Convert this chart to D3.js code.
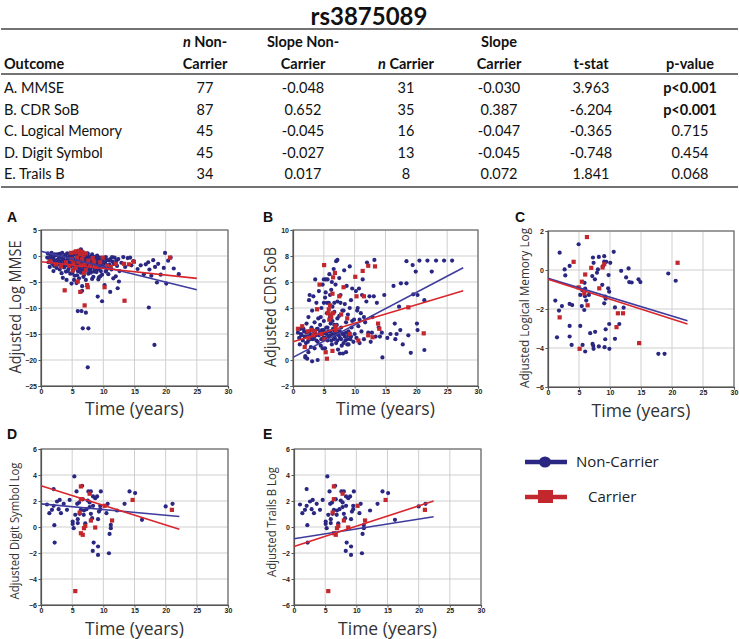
<!DOCTYPE html>
<html><head><meta charset="utf-8">
<script src="https://cdn.jsdelivr.net/npm/d3@7"></script>
<style>body{margin:0;background:#fff}svg{display:block}</style>
</head><body>
<svg id="fig" width="739" height="639"></svg>
<script>
// ---------------- data ----------------
const titleText = "rs3875089";
const outcomes = ["A. MMSE","B. CDR SoB","C. Logical Memory","D. Digit Symbol","E. Trails B"];
const nNonCarrier = ["77","87","45","45","34"];
const slopeNonCarrier = ["-0.048","0.652","-0.045","-0.027","0.017"];
const nCarrier = ["31","35","16","13","8"];
const slopeCarrier = ["-0.030","0.387","-0.047","-0.045","0.072"];
const tStat = ["3.963","-6.204","-0.365","-0.748","1.841"];
const pValue = ["p<0.001","p<0.001","0.715","0.454","0.068"];
const pBold = [true,true,false,false,false];

const xTicks = [0,5,10,15,20,25,30];
const yTicksA = [-25,-20,-15,-10,-5,0,5];
const yTicksB = [-2,0,2,4,6,8,10];
const yTicksC = [-6,-4,-2,0,2];
const yTicksDE = [-6,-4,-2,0,2,4,6];

const panelLabels = ["A","B","C","D","E"];
const yTitles = ["Adjusted Log MMSE","Adjusted CDR SoB","Adjusted Logical Memory Log","Adjusted Digit Symbol Log","Adjusted Trails B Log"];
const xTitle = "Time (years)";
const legendLabels = ["Non-Carrier","Carrier"];

// A: MMSE
const mmseNon = [[1.0,-0.3],[1.2,-1.2],[1.5,0.2],[1.6,-0.8],[1.8,-1.5],[2.0,-0.5],[2.1,-1.9],[2.3,0.1],[2.4,-1.1],[2.5,-2.3],[2.7,-0.7],[2.8,-1.6],[3.0,0.4],[3.0,-2.6],[3.2,-1.0],[3.3,-0.2],[3.4,-1.8],[3.5,-4.2],[3.6,-0.6],[3.7,-2.2],[3.8,-1.3],[3.9,0.2],[4.0,-3.0],[4.1,-0.9],[4.2,-1.7],[4.3,-0.3],[4.4,-2.5],[4.5,-1.2],[4.6,0.0],[4.7,-3.4],[4.8,-0.8],[4.8,-2.0],[4.9,-5.3],[5.0,-1.5],[5.1,-0.4],[5.2,-2.7],[5.3,0.3],[5.3,-1.1],[5.4,-3.8],[5.5,-0.7],[5.5,-2.2],[5.6,-1.6],[5.7,0.1],[5.7,-5.2],[5.8,-1.0],[5.9,-2.9],[6.0,-0.3],[6.0,-1.9],[6.1,-4.3],[6.2,-0.9],[6.2,-2.4],[6.3,0.4],[6.3,-1.4],[6.4,1.3],[6.4,-3.2],[6.5,-0.5],[6.5,-2.0],[6.6,-1.1],[6.6,-5.8],[6.7,-0.1],[6.7,-2.7],[6.8,-1.6],[6.9,0.5],[6.9,-3.6],[7.0,-0.8],[7.0,-2.2],[7.1,-1.3],[7.2,-0.3],[7.2,-4.6],[7.3,-1.9],[7.4,0.1],[7.4,-2.8],[7.5,-1.0],[7.6,-0.5],[7.7,-2.3],[7.8,-1.5],[7.9,-0.2],[8.0,-3.2],[8.0,-1.0],[8.1,-2.0],[8.2,-0.6],[8.3,-1.5],[8.4,-4.0],[8.5,-0.9],[8.6,-2.5],[8.7,-1.3],[8.8,-0.3],[8.9,-3.1],[9.0,-1.8],[9.1,-0.7],[9.2,-4.5],[9.3,-2.3],[9.4,-1.1],[9.5,-0.5],[9.6,-2.9],[9.7,-1.6],[9.8,-3.6],[9.9,-0.9],[10.0,-2.1],[10.2,-0.4],[10.3,-1.4],[10.5,-2.7],[10.6,-0.8],[10.8,-3.5],[11.0,-1.7],[11.1,-0.6],[11.3,-2.6],[11.5,-1.1],[11.8,-0.3],[12.0,-3.9],[12.2,-1.9],[12.4,-0.6],[12.6,-2.9],[12.9,-1.3],[13.2,-0.2],[13.5,-2.1],[13.9,-0.4],[14.3,-0.3],[14.5,-1.8],[14.8,-1.0],[15.5,-2.5],[16.0,-1.8],[16.5,-3.5],[16.8,-1.6],[17.2,-1.2],[17.4,-2.6],[17.7,-3.8],[18.0,-0.8],[18.3,-2.1],[18.8,-1.5],[19.2,-3.6],[19.7,-2.3],[19.9,0.6],[20.4,-0.9],[20.8,-0.3],[21.3,-2.4],[22.1,-3.5],[18.6,-5.1],[20.1,-5.3],[7.5,-21.4],[18.2,-17.1],[6.7,-13.9],[7.6,-13.9],[5.9,-10.6],[6.5,-10.6],[7.2,-10.9],[17.3,-9.9],[9.8,-8.7],[9.1,-7.8],[6.6,-6.7],[10.2,-5.6],[11.1,-6.9],[12.3,-6.2],[12.5,-4.9],[9.3,-4.1],[8.2,-4.4],
  [1.1,0.5],[1.3,-0.4],[1.7,0.6],[1.9,-0.2],[2.2,-0.9],[2.6,0.3],[2.9,-0.3],[3.1,-1.4],[3.4,0.6],[3.5,-0.9],[3.8,-0.1],[4.0,-1.8],[4.2,0.5],[4.4,-0.5],[4.6,-1.5],[4.9,0.4],[5.0,-0.2],[5.2,-0.9],[5.4,-1.8],[5.6,0.6],[5.8,-0.6],[6.0,-1.3],[6.1,0.8],[6.3,-0.2],[6.5,-1.6],[6.7,0.7],[6.8,-0.8],[7.0,0.2],[7.1,-1.8],[7.3,-0.6],[7.5,0.5],[7.7,-1.2],[7.8,-0.1],[8.0,-2.3],[8.2,0.3],[8.4,-1.1],[8.6,-0.2],[8.8,-1.8],[9.0,0.1],[9.2,-1.3],[9.4,-0.3],[9.6,-1.9],[9.8,-0.6],[10.1,-1.2],[10.4,-0.2],[10.7,-1.8],[11.0,-0.9],[11.4,-0.2],[11.7,-1.5],[12.1,-0.9],[2.0,-2.9],[3.3,-3.3],[4.3,-2.9],[5.0,-3.3],[5.8,-3.7],[6.8,-4.0],[7.6,-3.4],[8.5,-3.0],[9.5,-3.9],[10.4,-3.0],[11.6,-4.3],[4.1,-4.6],[5.3,-4.6],[3.0,-1.1],[2.2,0.3],[1.4,-2.1],[6.1,-2.9],[7.9,-2.7],[9.1,-2.6],[10.9,-2.3]];
const mmseCar = [[1.5,-1.0],[2.4,-1.6],[3.2,-2.0],[3.8,-6.6],[4.0,-1.2],[4.5,-1.9],[4.9,-0.6],[5.2,-1.4],[5.4,0.7],[5.6,-2.3],[5.8,-0.3],[5.9,-4.9],[6.0,-1.1],[6.2,0.4],[6.3,-6.9],[6.4,-1.8],[6.6,-0.6],[6.8,0.2],[7.0,-9.5],[7.0,-1.5],[7.2,-2.7],[7.4,-5.6],[7.5,-6.0],[7.6,-0.9],[7.9,-1.8],[8.3,-0.4],[8.8,-2.1],[9.5,-1.2],[10.2,-6.0],[10.6,-1.9],[12.0,-1.5],[13.3,-1.5],[13.4,-8.6],[14.9,-1.1],[20.7,-0.3],
  [4.8,0.6],[5.6,0.9],[6.1,1.0],[6.6,0.8],[7.2,0.5],[5.1,-2.8],[6.9,-3.3],[8.5,-1.1],[9.9,-0.3],[11.2,-2.1],[14.1,-1.6]];
const mmseFitNon = [[0,0.9],[25,-6.5]];
const mmseFitCar = [[0,-1.1],[25,-4.3]];

// B: CDR SoB
const cdrNon = [[0.8,2.1],[1.0,1.7],[1.2,2.4],[1.4,1.9],[1.6,1.5],[1.8,2.2],[2.0,0.3],[2.1,1.3],[2.2,2.8],[2.3,0.1],[2.4,1.8],[2.5,3.3],[2.6,4.6],[2.7,5.0],[2.8,2.0],[2.9,1.0],[3.0,2.5],[3.1,-0.1],[3.1,3.8],[3.2,1.6],[3.3,4.9],[3.4,2.2],[3.5,0.9],[3.5,2.9],[3.6,6.2],[3.7,1.9],[3.8,4.4],[3.9,2.4],[4.0,0.0],[4.0,1.4],[4.1,3.2],[4.2,5.3],[4.3,2.0],[4.4,2.7],[4.5,1.1],[4.6,4.0],[4.7,2.3],[4.8,5.8],[4.9,1.7],[5.0,3.0],[5.1,2.1],[5.2,4.8],[5.2,0.9],[5.3,6.2],[5.4,2.5],[5.5,3.6],[5.6,1.5],[5.7,2.2],[5.8,4.4],[5.9,6.6],[6.0,1.9],[6.0,3.3],[6.1,2.8],[6.2,5.4],[6.3,1.2],[6.4,4.1],[6.5,2.4],[6.6,7.0],[6.6,1.6],[6.7,3.7],[6.8,2.0],[6.9,5.8],[7.0,7.6],[7.0,1.3],[7.1,2.7],[7.2,7.7],[7.2,4.5],[7.3,0.8],[7.4,2.2],[7.5,6.3],[7.5,3.4],[7.6,1.7],[7.7,5.0],[7.8,2.5],[7.9,1.1],[8.0,3.8],[8.1,0.5],[8.2,2.0],[8.3,6.9],[8.4,4.3],[8.5,1.5],[8.6,2.9],[8.7,5.7],[8.8,1.2],[8.9,3.5],[9.0,2.2],[9.2,7.2],[9.3,1.6],[9.4,4.6],[9.5,2.5],[9.6,5.5],[9.8,1.4],[9.9,3.1],[10.0,2.0],[10.2,5.3],[10.3,1.7],[10.5,4.0],[10.6,2.6],[10.8,1.3],[11.0,3.6],[11.1,2.2],[11.3,6.2],[11.5,1.6],[11.7,2.9],[11.9,4.5],[12.0,7.5],[12.2,2.1],[12.4,4.9],[12.6,1.4],[12.9,3.3],[13.2,7.7],[13.4,1.8],[13.6,4.4],[13.9,2.5],[14.1,1.8],[14.4,2.1],[14.5,0.2],[14.8,5.0],[15.3,1.7],[15.8,2.0],[16.3,5.7],[16.5,2.8],[16.8,2.0],[17.2,4.1],[17.4,2.3],[17.5,5.9],[17.8,1.2],[18.4,7.6],[18.4,5.9],[18.7,1.9],[19.1,0.55],[19.4,7.3],[19.5,5.05],[19.9,6.8],[20.2,2.3],[20.5,7.65],[20.2,5.0],[21.3,4.6],[21.3,0.77],[21.8,7.65],[22.5,6.8],[23.2,7.65],[24.5,7.65],[25.8,7.65],
  [1.1,1.2],[1.3,2.0],[1.7,2.4],[1.9,1.8],[2.2,2.1],[2.4,1.4],[2.6,2.2],[2.8,1.6],[3.0,1.9],[3.2,2.3],[3.4,1.7],[3.6,2.1],[3.8,1.5],[4.0,2.4],[4.2,1.9],[4.4,2.2],[4.6,1.6],[4.8,2.0],[5.0,2.3],[5.2,1.7],[5.4,2.0],[5.6,2.5],[5.8,1.8],[6.0,2.2],[6.2,1.5],[6.4,2.0],[6.6,2.3],[6.8,1.7],[7.0,2.0],[7.2,1.5],[7.4,1.9],[7.6,2.2],[7.8,1.6],[8.0,2.0],[8.2,1.3],[8.4,1.8],[8.6,2.1],[8.8,1.6],[9.0,1.9],[9.4,1.8],[2.0,0.2],[2.5,0.6],[4.8,0.9],[7.6,0.5],[8.6,0.6],[9.0,1.2],[5.5,4.4],[6.0,5.0],[5.0,4.4],[6.7,4.4],[7.7,4.4],[4.5,3.3],[6.4,3.0],[7.2,3.2],[8.2,3.8],[9.2,4.0],[10.4,3.8],[5.0,6.2],[5.6,6.2],[6.3,6.0],[5.3,5.2],[6.7,2.7],[9.6,3.0],[10.8,3.1],[11.5,3.3],[12.8,2.1],[13.1,4.9],[11.2,5.0],[10.7,5.5],[16.6,1.6],[20.1,2.8]];
const cdrCar = [[0.8,2.4],[1.5,2.6],[1.9,1.0],[2.4,2.2],[3.0,2.3],[3.3,1.9],[3.9,3.9],[4.3,5.8],[4.6,2.0],[5.05,7.3],[5.3,0.6],[5.5,0.1],[5.7,3.6],[6.0,4.2],[6.2,3.3],[6.4,0.7],[6.4,5.1],[6.5,6.36],[6.8,6.7],[7.0,2.3],[7.5,4.9],[7.8,3.5],[8.2,5.6],[8.8,3.2],[9.2,2.0],[10.1,6.4],[10.3,4.9],[10.6,1.5],[11.3,6.85],[11.5,4.9],[12.2,7.25],[12.2,1.9],[12.9,1.75],[13.3,7.2],[13.8,2.8],[14.0,2.4],[18.7,4.05],[21.2,2.05],
  [5.8,3.9],[6.0,3.5],[5.9,3.1],[6.5,3.6],[3.6,2.2],[2.5,1.7],[6.9,2.6],[5.1,1.6]];
const cdrFitNon = [[0,0.2],[27.6,7.1]];
const cdrFitCar = [[0,1.4],[27.6,5.33]];

// C: Logical Memory
const lmNon = [[1.88,0.89],[4.94,1.32],[2.68,0.03],[2.79,-0.28],[3.49,0.21],[1.18,-1.57],[1.77,-2.08],[2.25,-1.85],[3.49,-1.74],[3.9,-1.8],[1.45,-3.45],[3.49,-2.87],[3.49,-3.41],[3.81,-3.84],[5.2,-1.28],[5.5,-1.03],[5.45,-1.85],[5.9,-0.66],[6.0,-0.95],[5.96,-1.34],[5.85,-2.05],[6.17,-1.57],[5.2,-2.87],[5.58,-3.84],[6.0,-4.18],[6.8,-3.24],[6.6,-1.28],[7.25,0.64],[7.35,0.37],[7.14,-0.31],[7.57,-0.48],[7.9,-0.14],[8.05,0.03],[8.2,0.67],[9.07,0.71],[9.07,0.43],[9.4,0.42],[10.04,0.37],[8.86,0.2],[8.75,-0.76],[9.23,-1.37],[9.3,-1.47],[9.07,-1.71],[9.7,-0.94],[9.87,-1.11],[9.77,-0.26],[10.6,0.93],[7.6,-3.17],[7.19,-3.79],[7.3,-3.89],[7.35,-4.04],[8.2,-3.92],[9.12,-3.96],[9.9,-4.04],[9.87,-2.77],[9.3,-3.04],[9.23,-3.55],[10.8,-1.92],[10.8,-3.53],[11.5,-2.77],[12.2,-1.93],[11.8,-0.04],[12.6,-0.38],[13.0,0.08],[13.1,-0.62],[13.5,-0.64],[14.6,-0.48],[14.9,-0.62],[17.8,-4.3],[18.8,-4.3],[19.4,-0.18],[20.6,-0.55]];
const lmCar = [[6.28,1.69],[4.13,0.42],[1.88,-2.43],[4.94,-0.89],[5.47,-0.6],[6.0,-0.23],[5.85,-1.2],[6.39,-1.81],[5.1,-4.04],[6.98,0.11],[8.27,-0.94],[8.8,0.13],[9.07,0.3],[11.27,-2.22],[12.1,-2.22],[11.05,-2.93],[14.7,-3.75],[20.9,0.37]];
const lmFitNon = [[0,-0.43],[22.5,-2.6]];
const lmFitCar = [[0,-0.48],[22.5,-2.77]];

// D: Digit Symbol
const dsNon = [[0.96,1.73],[1.34,1.06],[1.76,1.32],[2.03,2.92],[2.03,1.63],[2.14,0.14],[2.19,-1.2],[2.57,1.96],[2.83,1.37],[3.0,2.08],[3.2,1.06],[3.64,1.78],[4.17,1.32],[4.6,2.08],[5.08,0.42],[5.08,0.24],[5.24,-0.09],[5.35,3.89],[5.5,0.94],[5.9,0.6],[5.8,1.78],[6.1,1.88],[6.2,1.01],[5.9,0.3],[5.7,2.74],[6.4,1.32],[6.6,3.17],[6.7,2.14],[6.9,1.27],[7.1,0.29],[6.85,0.94],[7.3,1.37],[7.5,2.04],[7.6,2.74],[7.8,1.53],[8.0,2.74],[7.8,1.89],[8.0,1.01],[8.2,0.68],[8.35,1.63],[8.35,2.35],[8.7,2.22],[9.0,2.35],[9.15,0.6],[9.3,1.19],[9.5,1.63],[9.5,1.37],[9.6,2.74],[8.45,-1.2],[8.3,-1.84],[9.15,-1.5],[9.15,-2.15],[10.7,1.78],[10.5,1.06],[11.0,-0.53],[10.9,-2.02],[11.2,0.16],[11.2,-0.09],[12.2,1.27],[13.4,1.78],[14.2,2.74],[15.1,2.61],[16.2,0.55],[20.0,1.58],[21.1,1.78]];
const dsCar = [[6.4,3.12],[6.4,2.14],[6.2,1.11],[6.4,-0.48],[6.7,-0.6],[6.9,-0.09],[7.1,0.08],[7.8,2.56],[8.0,0.5],[8.7,-0.04],[10.2,1.63],[11.4,0.5],[14.7,2.08],[21.0,1.32],[5.5,-4.93]];
const dsFitNon = [[0,1.78],[22.2,0.81]];
const dsFitCar = [[0,3.17],[22.2,-0.17]];

// E: Trails B (the published panel shows the same scatter as D)
const tbNon = dsNon;
const tbCar = dsCar;
const tbFitNon = [[0,-0.9],[22.4,0.79]];
const tbFitCar = [[0,-1.5],[22.4,2.0]];

// ---------------- drawing ----------------
const BLUE = "#2a2782", RED = "#c1272d", LBLUE = "#3f3c9e", LRED = "#d8262c";
const svg = d3.select("#fig");
const tfont = "Lato, 'Open Sans', sans-serif";

svg.append("text").attr("x", 369).attr("y", 25).attr("text-anchor","middle")
  .attr("font-family", tfont).attr("font-weight","bold").attr("font-size", 24).attr("fill","#111").text(titleText);

const colX = [4, 205, 303, 406, 499, 591, 690];
const rule = (y)=>svg.append("line").attr("x1",1).attr("x2",738).attr("y1",y).attr("y2",y).attr("stroke","#444").attr("stroke-width",1.3);
rule(29); rule(74); rule(187);
const hdr = svg.append("g").attr("font-family", tfont).attr("font-size", 14.5).attr("fill","#111").attr("font-weight","bold");
function hText(x, y, parts, anchor){
  const t = hdr.append("text").attr("x",x).attr("y",y).attr("text-anchor",anchor||"middle");
  parts.forEach(p=>{ const s=t.append("tspan").text(p[0]); if(p[1]) s.attr("font-style","italic"); });
}
hText(colX[1], 47, [["n",1],[" Non-"]]);
hText(colX[2], 47, [["Slope Non-"]]);
hText(colX[4], 47, [["Slope"]]);
hText(colX[0], 69, [["Outcome"]], "start");
hText(colX[1], 69, [["Carrier"]]);
hText(colX[2], 69, [["Carrier"]]);
hText(colX[3], 69, [["n",1],[" Carrier"]]);
hText(colX[4], 69, [["Carrier"]]);
hText(colX[5], 69, [["t-stat"]]);
hText(colX[6], 69, [["p-value"]]);
const rowY = d3.scaleLinear().domain([0,4]).range([93,179]);
const body = svg.append("g").attr("font-family", tfont).attr("font-size", 14.5).attr("fill","#111");
outcomes.forEach((o,i)=>{
  const y = rowY(i);
  body.append("text").attr("x",colX[0]).attr("y",y).text(o);
  [nNonCarrier[i], slopeNonCarrier[i], nCarrier[i], slopeCarrier[i], tStat[i]].forEach((v,j)=>{
    body.append("text").attr("x",colX[j+1]).attr("y",y).attr("text-anchor","middle").text(v);
  });
  body.append("text").attr("x",colX[6]).attr("y",y).attr("text-anchor","middle")
    .attr("font-weight", pBold[i] ? "bold" : "normal").text(pValue[i]);
});

function panel(cfg){
  const g = svg.append("g");
  const x = d3.scaleLinear().domain([0,30]).range([cfg.x0, cfg.x1]);
  const y = d3.scaleLinear().domain(cfg.yDom).range([cfg.y1, cfg.y0]);
  g.append("g").selectAll("line").data(xTicks).join("line")
    .attr("x1",d=>x(d)).attr("x2",d=>x(d)).attr("y1",cfg.y0).attr("y2",cfg.y1)
    .attr("stroke","#cfcfcf").attr("stroke-width",1);
  g.append("g").selectAll("line").data(cfg.yTicks).join("line")
    .attr("x1",cfg.x0).attr("x2",cfg.x1).attr("y1",d=>y(d)).attr("y2",d=>y(d))
    .attr("stroke","#cfcfcf").attr("stroke-width",1);
  g.append("rect").attr("x",cfg.x0).attr("y",cfg.y0).attr("width",cfg.x1-cfg.x0).attr("height",cfg.y1-cfg.y0)
    .attr("fill","none").attr("stroke","#6a6a6a").attr("stroke-width",1.2);
  const ax = g.append("g").attr("transform",`translate(0,${cfg.y1})`)
    .call(d3.axisBottom(x).tickValues(xTicks).tickSize(2.5).tickPadding(0.5).tickFormat(d3.format("d")));
  const ay = g.append("g").attr("transform",`translate(${cfg.x0},0)`)
    .call(d3.axisLeft(y).tickValues(cfg.yTicks).tickSize(2.5).tickPadding(1.5).tickFormat(d3.format("d")));
  [ax, ay].forEach(a=>{
    a.select(".domain").attr("stroke","#555").attr("stroke-width",1.2);
    a.selectAll(".tick line").attr("stroke","#555");
    a.selectAll("text").attr("font-family","Arial, 'Liberation Sans', sans-serif").attr("font-size",7)
      .attr("font-weight","bold").attr("fill","#222");
  });
  g.append("g").selectAll("circle").data(cfg.non).join("circle")
    .attr("cx",d=>x(d[0])).attr("cy",d=>y(d[1])).attr("r",2.1).attr("fill",BLUE);
  g.append("g").selectAll("rect").data(cfg.car).join("rect")
    .attr("x",d=>x(d[0])-2.1).attr("y",d=>y(d[1])-2.1).attr("width",4.2).attr("height",4.2).attr("fill",RED);
  const line = d3.line().x(d=>x(d[0])).y(d=>y(d[1]));
  g.append("path").datum(cfg.fitNon).attr("d",line).attr("stroke",LBLUE).attr("stroke-width",1.6).attr("fill","none");
  g.append("path").datum(cfg.fitCar).attr("d",line).attr("stroke",LRED).attr("stroke-width",1.6).attr("fill","none");
  svg.append("text").attr("x",cfg.lx).attr("y",cfg.ly).attr("font-family","Arial, 'Liberation Sans', sans-serif")
    .attr("font-weight","bold").attr("font-size",14).attr("fill","#111").text(cfg.label);
  svg.append("text").attr("transform",`translate(${cfg.ytx},${cfg.yty}) rotate(-90)`)
    .attr("text-anchor","middle").attr("font-family","'Open Sans', sans-serif").attr("font-size",cfg.yfs)
    .attr("textLength",cfg.ylen).attr("lengthAdjust","spacingAndGlyphs")
    .attr("fill","#333").text(cfg.ytitle);
  svg.append("text").attr("x",(cfg.x0+cfg.x1)/2).attr("y",cfg.xty).attr("text-anchor","middle")
    .attr("font-family","'Open Sans', sans-serif").attr("font-size",17.5).attr("fill","#333").text(xTitle);
}

panel({x0:41,x1:228,y0:230,y1:386,yDom:[-25,5],yTicks:yTicksA,non:mmseNon,car:mmseCar,fitNon:mmseFitNon,fitCar:mmseFitCar,
  label:panelLabels[0],lx:7,ly:222,ytitle:yTitles[0],ytx:21,yty:307,yfs:16,ylen:133,xty:415});
panel({x0:293,x1:478,y0:230,y1:386,yDom:[-2,10],yTicks:yTicksB,non:cdrNon,car:cdrCar,fitNon:cdrFitNon,fitCar:cdrFitCar,
  label:panelLabels[1],lx:263,ly:222,ytitle:yTitles[1],ytx:276,yty:307,yfs:16,ylen:120,xty:415});
panel({x0:548,x1:734,y0:231,y1:387,yDom:[-6,2],yTicks:yTicksC,non:lmNon,car:lmCar,fitNon:lmFitNon,fitCar:lmFitCar,
  label:panelLabels[2],lx:515,ly:222,ytitle:yTitles[2],ytx:529,yty:308,yfs:12.5,ylen:160,xty:417});
panel({x0:41,x1:228,y0:449,y1:605,yDom:[-6,6],yTicks:yTicksDE,non:dsNon,car:dsCar,fitNon:dsFitNon,fitCar:dsFitCar,
  label:panelLabels[3],lx:7,ly:439,ytitle:yTitles[3],ytx:19,yty:531,yfs:12.5,ylen:137,xty:635});
panel({x0:294,x1:481,y0:449,y1:605,yDom:[-6,6],yTicks:yTicksDE,non:tbNon,car:tbCar,fitNon:tbFitNon,fitCar:tbFitCar,
  label:panelLabels[4],lx:263,ly:439,ytitle:yTitles[4],ytx:276,yty:522,yfs:12.5,ylen:110,xty:635});

const lg = svg.append("g");
lg.append("line").attr("x1",525).attr("x2",567).attr("y1",462).attr("y2",462).attr("stroke",BLUE).attr("stroke-width",4.5);
lg.append("ellipse").attr("cx",545).attr("cy",462).attr("rx",6).attr("ry",5.5).attr("fill",BLUE);
lg.append("line").attr("x1",525).attr("x2",567).attr("y1",497).attr("y2",497).attr("stroke",RED).attr("stroke-width",4.5);
lg.append("rect").attr("x",538).attr("y",490).attr("width",15).attr("height",13).attr("fill",RED);
lg.append("text").attr("x",576).attr("y",467).attr("font-family","'Open Sans', sans-serif").attr("font-size",15).attr("fill","#222").text(legendLabels[0]);
lg.append("text").attr("x",588).attr("y",502).attr("font-family","'Open Sans', sans-serif").attr("font-size",15).attr("fill","#222").text(legendLabels[1]);
</script>
</body></html>
